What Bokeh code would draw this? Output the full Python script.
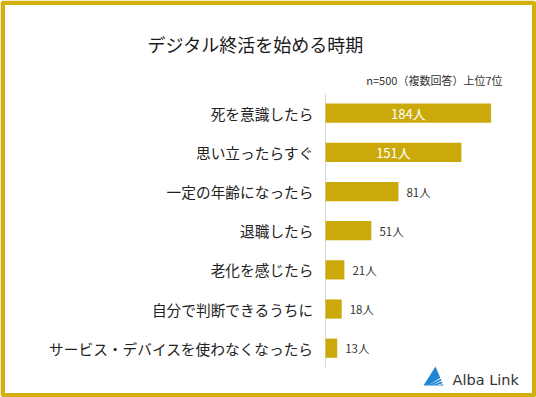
from bokeh.plotting import figure
from bokeh.models import (ColumnDataSource, LabelSet, Label, Range1d,
                          BoxAnnotation, PolyAnnotation)
from bokeh.core.properties import value
from bokeh.embed import file_html
from bokeh.resources import INLINE

# ---- data ----
categories = ["死を意識したら", "思い立ったらすぐ", "一定の年齢になったら", "退職したら",
              "老化を感じたら", "自分で判断できるうちに", "サービス・デバイスを使わなくなったら"]
counts = [184, 151, 81, 51, 21, 18, 13]
value_labels = [f"{v}人" for v in counts]
title_text = "デジタル終活を始める時期"
subtitle_text = "n=500（複数回答）上位7位"
logo_text = "Alba Link"

GOLD = "#CCA90B"
BORDER = "#D2B00E"
JP = "Noto Sans CJK JP"

W, H = 536, 397
# layout constants (pixels)
AXIS_X = 325          # pixel x of value 0
PX_PER_UNIT = 0.9     # pixels per count
ROW_TOP_PX = 112.7    # centre of first row
ROW_BOT_PX = 347.7    # centre of last row

n = len(categories)
ypos = [n - 1 - i for i in range(n)]          # first category on top
row_px = (ROW_BOT_PX - ROW_TOP_PX) / (n - 1)

p = figure(width=W, height=H,
           x_range=Range1d(-AXIS_X / PX_PER_UNIT, (W - AXIS_X) / PX_PER_UNIT),
           y_range=Range1d(-(H - ROW_BOT_PX) / row_px, (n - 1) + ROW_TOP_PX / row_px),
           output_backend="svg", toolbar_location=None,
           min_border=0)
p.axis.visible = False
p.grid.visible = False
p.outline_line_color = None
p.background_fill_color = "white"
p.border_fill_color = "white"

src = ColumnDataSource(dict(cat=categories, y=ypos, val=counts, lab=value_labels))

# axis line
p.segment(x0=[0], y0=[min(ypos) - 0.5], x1=[0], y1=[max(ypos) + 0.5],
          line_color="#d9d9d9", line_width=1)

p.hbar(y="y", left=0, right="val", height=0.49, source=src,
       fill_color=GOLD, line_color=None)

# category labels
p.text(x=0, y="y", text="cat", source=src, x_offset=-12,
       text_align="right", text_baseline="middle",
       text_font=value(JP), text_font_size="14.7px", text_color="#222222")

inside = [i for i, v in enumerate(counts) if v >= 100]
outside = [i for i, v in enumerate(counts) if v < 100]
src_in = ColumnDataSource(dict(y=[ypos[i] for i in inside],
                               mid=[counts[i] / 2 for i in inside],
                               lab=[value_labels[i] for i in inside]))
src_out = ColumnDataSource(dict(y=[ypos[i] for i in outside],
                                val=[counts[i] for i in outside],
                                lab=[value_labels[i] for i in outside]))
p.add_layout(LabelSet(x="mid", y="y", text="lab", source=src_in,
                      text_align="center", text_baseline="middle",
                      text_color="white", text_font=value(JP), text_font_size="13px"))
p.add_layout(LabelSet(x="val", y="y", text="lab", source=src_out, x_offset=8,
                      text_align="left", text_baseline="middle",
                      text_color="#333333", text_font=value(JP), text_font_size="11.5px"))

# screen helpers (frame == canvas, y measured from bottom)
def sx(px):
    return px

def sy(py):
    return H - py

p.add_layout(Label(x=sx(255), y=sy(43), x_units="screen", y_units="screen",
                   text=title_text, text_align="center", text_baseline="middle",
                   text_font=JP, text_font_size="18px", text_color="#1a1a1a"))
p.add_layout(Label(x=sx(502), y=sy(79), x_units="screen", y_units="screen",
                   text=subtitle_text, text_align="right", text_baseline="middle",
                   text_font=JP, text_font_size="11px", text_color="#333333"))
p.add_layout(Label(x=sx(452), y=sy(379), x_units="screen", y_units="screen",
                   text=logo_text, text_align="left", text_baseline="middle",
                   text_font="DejaVu Sans", text_font_size="14.5px", text_color="#333333"))
# logo mark
p.add_layout(PolyAnnotation(xs=[sx(423), sx(435), sx(443)],
                            ys=[sy(385), sy(366), sy(385)],
                            xs_units="screen", ys_units="screen",
                            fill_color="#1f86d6", fill_alpha=1, line_color=None))
for k in range(3):
    p.add_layout(PolyAnnotation(xs=[sx(427 + 4 * k), sx(444), sx(444)],
                                ys=[sy(385), sy(375 + 3.5 * k), sy(376.5 + 3.5 * k)],
                                xs_units="screen", ys_units="screen",
                                fill_color="white", fill_alpha=1, line_color=None))

# gold frame
p.add_layout(BoxAnnotation(left=sx(2.25), right=sx(W - 2.25), top=sy(2.25), bottom=sy(H - 2.25),
                           left_units="screen", right_units="screen",
                           top_units="screen", bottom_units="screen",
                           fill_color=None, fill_alpha=0, line_color=BORDER,
                           line_width=4.5, line_alpha=1))

html = file_html(p, INLINE)
html = html.replace("<head>", "<head><style>html,body{margin:0;padding:0;overflow:hidden}</style>", 1)
open("out.html", "w").write(html)
